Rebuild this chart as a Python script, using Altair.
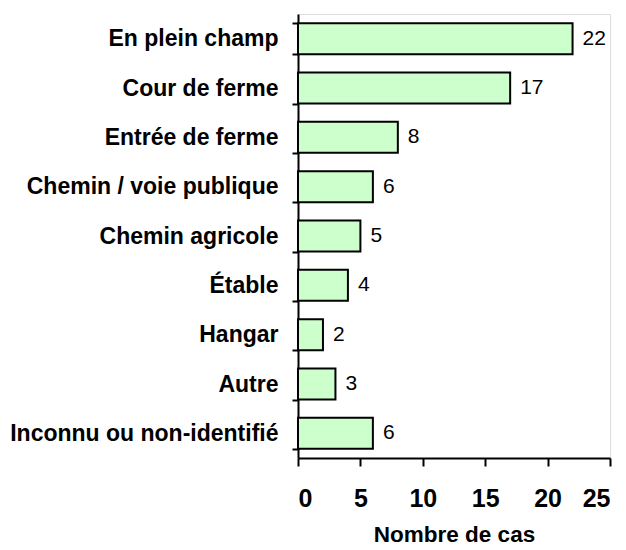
import altair as alt
import pandas as pd

categories = [
    "En plein champ",
    "Cour de ferme",
    "Entrée de ferme",
    "Chemin / voie publique",
    "Chemin agricole",
    "Étable",
    "Hangar",
    "Autre",
    "Inconnu ou non-identifié",
]
values = [22, 17, 8, 6, 5, 4, 2, 3, 6]
x_ticks = [0, 5, 10, 15, 20, 25]

df = pd.DataFrame({"lieu": categories, "cas": values})

FONT = "Liberation Sans"

y_enc = alt.Y(
    "lieu:N",
    sort=categories,
    scale=alt.Scale(paddingInner=0.37, paddingOuter=0.185),
    axis=alt.Axis(
        title=None,
        tickBand="extent",
        tickSize=6,
        tickWidth=2,
        tickColor="black",
        domainColor="black",
        domainWidth=2,
        labelFont=FONT,
        labelFontSize=23,
        labelFontWeight="bold",
        labelColor="black",
        labelPadding=14,
        labelLimit=400,
    ),
)
x_enc = alt.X(
    "cas:Q",
    scale=alt.Scale(domain=[0, 25], nice=False),
    axis=alt.Axis(
        title="Nombre de cas",
        values=x_ticks,
        grid=False,
        tickSize=8,
        tickWidth=2,
        tickColor="black",
        domainColor="black",
        domainWidth=2,
        labelFont=FONT,
        labelFontSize=25,
        labelFontWeight="bold",
        labelColor="black",
        labelPadding=20,
        titleFont=FONT,
        titleFontSize=22.5,
        titleFontWeight="bold",
        titleColor="black",
        titlePadding=12,
    ),
)

base = alt.Chart(df)
bars = base.mark_bar(fill="#CCFFCC", stroke="black", strokeWidth=2).encode(
    y=y_enc, x=x_enc
)
labels = base.mark_text(
    align="left", baseline="middle", dx=10, font=FONT, fontSize=21, color="black"
).encode(y=y_enc, x=x_enc, text="cas:Q")

chart = (
    alt.layer(bars, labels)
    .properties(
        width=312,
        height=444,
        autosize=alt.AutoSizeParams(type="none"),
        padding={"left": 290, "top": 6, "right": 8, "bottom": 90},
    )
    .configure_view(stroke=None)
    .configure(background="white")
)

chart.save("out.html", embed_options={"renderer": "svg", "actions": False})
